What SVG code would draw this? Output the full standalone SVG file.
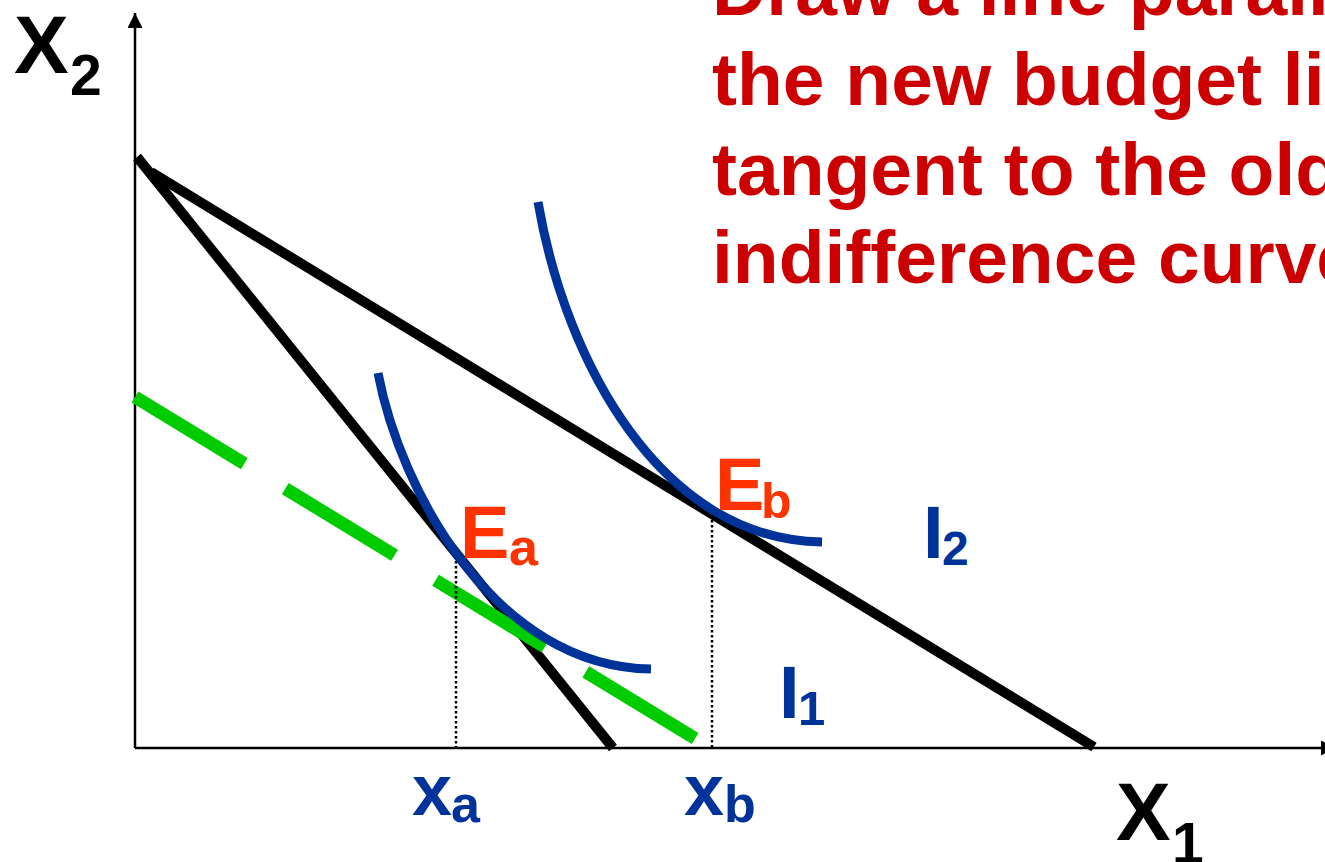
<svg xmlns="http://www.w3.org/2000/svg" width="1325" height="862" viewBox="0 0 1325 862">
  <style>
    text { font-family: "Liberation Sans", Arial, sans-serif; font-weight: bold; }
    .blk { fill: #000000; }
    .blu { fill: #003399; }
    .org { fill: #FF3300; }
    .red { fill: #CC0000; }
    .axis { stroke: #000000; stroke-width: 2.5; fill: none; }
    .budget { stroke: #000000; stroke-width: 10; fill: none; stroke-linecap: butt; }
    .ic { stroke: #003399; stroke-width: 9; fill: none; stroke-linecap: butt; }
    .guide { stroke: #000000; stroke-width: 2.5; stroke-dasharray: 2.5 2.5; fill: none; }
    .green { stroke: #00CC00; stroke-width: 13; fill: none; stroke-dasharray: 128 48; stroke-linecap: butt; }
  </style>
  <defs>
    <marker id="arrow" viewBox="0 0 10 10" refX="10" refY="5" markerWidth="6" markerHeight="6" orient="auto" markerUnits="strokeWidth">
      <path d="M0,0 L10,5 L0,10 Z" fill="#000000"/>
    </marker>
  </defs>
  <rect width="1325" height="862" fill="#ffffff"/>

  <g id="axes">
    <line class="axis" x1="135" y1="748" x2="135" y2="13" marker-end="url(#arrow)"/>
    <line class="axis" x1="135" y1="748" x2="1336" y2="748" marker-end="url(#arrow)"/>
  </g>

  <g id="connectors">
    <line id="old-budget" class="budget" x1="137" y1="157" x2="613" y2="748"/>
    <line id="new-budget" class="budget" x1="151" y1="172" x2="1094" y2="747"/>
    <line id="parallel-line" class="green" x1="135" y1="397" x2="696" y2="739"/>
    <line id="guide-a" class="guide" x1="456" y1="556" x2="456" y2="748"/>
    <line id="guide-b" class="guide" x1="712" y1="510" x2="712" y2="748"/>
  </g>

  <g id="curve-I1">
    <path class="ic" d="M378,373 C400,490 495,667 651,669"/>
  </g>
  <g id="curve-I2">
    <path class="ic" d="M538,202 C565,360 660,540 822,542"/>
  </g>

  <g id="label-X2">
    <text class="blk" x="14" y="73" font-size="82">X</text>
    <text class="blk" x="70" y="95" font-size="57">2</text>
  </g>
  <g id="label-X1">
    <text class="blk" x="1116" y="840" font-size="82">X</text>
    <text class="blk" x="1172" y="863" font-size="57">1</text>
  </g>
  <g id="label-Ea">
    <text class="org" x="460" y="558" font-size="74">E</text>
    <text class="org" x="509" y="565" font-size="52">a</text>
  </g>
  <g id="label-Eb">
    <text class="org" x="715" y="510" font-size="74">E</text>
    <text class="org" x="761" y="518" font-size="50">b</text>
  </g>
  <g id="label-I1">
    <text class="blu" x="779" y="718" font-size="74">I</text>
    <text class="blu" x="798" y="725" font-size="49">1</text>
  </g>
  <g id="label-I2">
    <text class="blu" x="923" y="558" font-size="74">I</text>
    <text class="blu" x="942" y="565" font-size="48">2</text>
  </g>
  <g id="label-xa">
    <text class="blu" x="412" y="815" font-size="72">x</text>
    <text class="blu" x="451" y="822" font-size="52">a</text>
  </g>
  <g id="label-xb">
    <text class="blu" x="684" y="815" font-size="72">x</text>
    <text class="blu" x="724" y="822" font-size="52">b</text>
  </g>

  <g id="instruction">
    <text class="red" font-size="75">
      <tspan x="712" y="15">Draw a line parallel</tspan>
      <tspan x="712" y="105">the new budget line</tspan>
      <tspan x="712" y="195">tangent to the old</tspan>
      <tspan x="712" y="283">indifference curve</tspan>
    </text>
  </g>
</svg>
